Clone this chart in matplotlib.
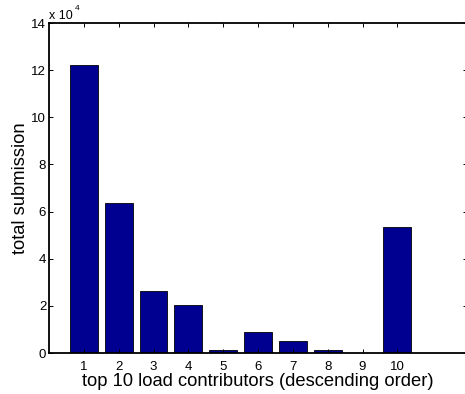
import matplotlib
matplotlib.use("Agg")
import matplotlib.pyplot as plt
from matplotlib.ticker import FuncFormatter

plt.rcParams['font.family'] = ['Liberation Sans', 'DejaVu Sans']

categories = [1, 2, 3, 4, 5, 6, 7, 8, 9, 10]
submissions = [122000, 63800, 26200, 20200, 1300, 8700, 5000, 1100, 200, 53600]
yticks = [0, 20000, 40000, 60000, 80000, 100000, 120000, 140000]

fig = plt.figure(figsize=(4.65, 3.94), dpi=100)
ax = fig.add_axes([49/465, 1-353/394, 418/465, 330/394])

ax.bar(categories, submissions, width=0.8, color='#000090', edgecolor='black', linewidth=0.6)
ax.set_xlim(0, 12)
ax.set_ylim(0, 140000)
ax.set_xticks(categories)
ax.set_yticks(yticks)
ax.yaxis.set_major_formatter(FuncFormatter(lambda v, p: f"{v/1e4:g}"))
ax.tick_params(direction='in', length=3, width=0.7, labelsize=9.5, top=True, right=True)
ax.tick_params(axis='x', pad=6)
ax.tick_params(axis='y', pad=2)
for s in ax.spines.values():
    s.set_linewidth(1.3)

ax.set_xlabel('top 10 load contributors (descending order)', fontsize=13.2, labelpad=0)
ax.set_ylabel('total submission', fontsize=13.2, labelpad=2)

fig.text(49/465, 1-19/394, 'x 10', fontsize=9, ha='left', va='baseline')
fig.text(75/465, 1-10/394, '4', fontsize=6, ha='left', va='baseline')

fig.savefig('out.png', dpi=100)
